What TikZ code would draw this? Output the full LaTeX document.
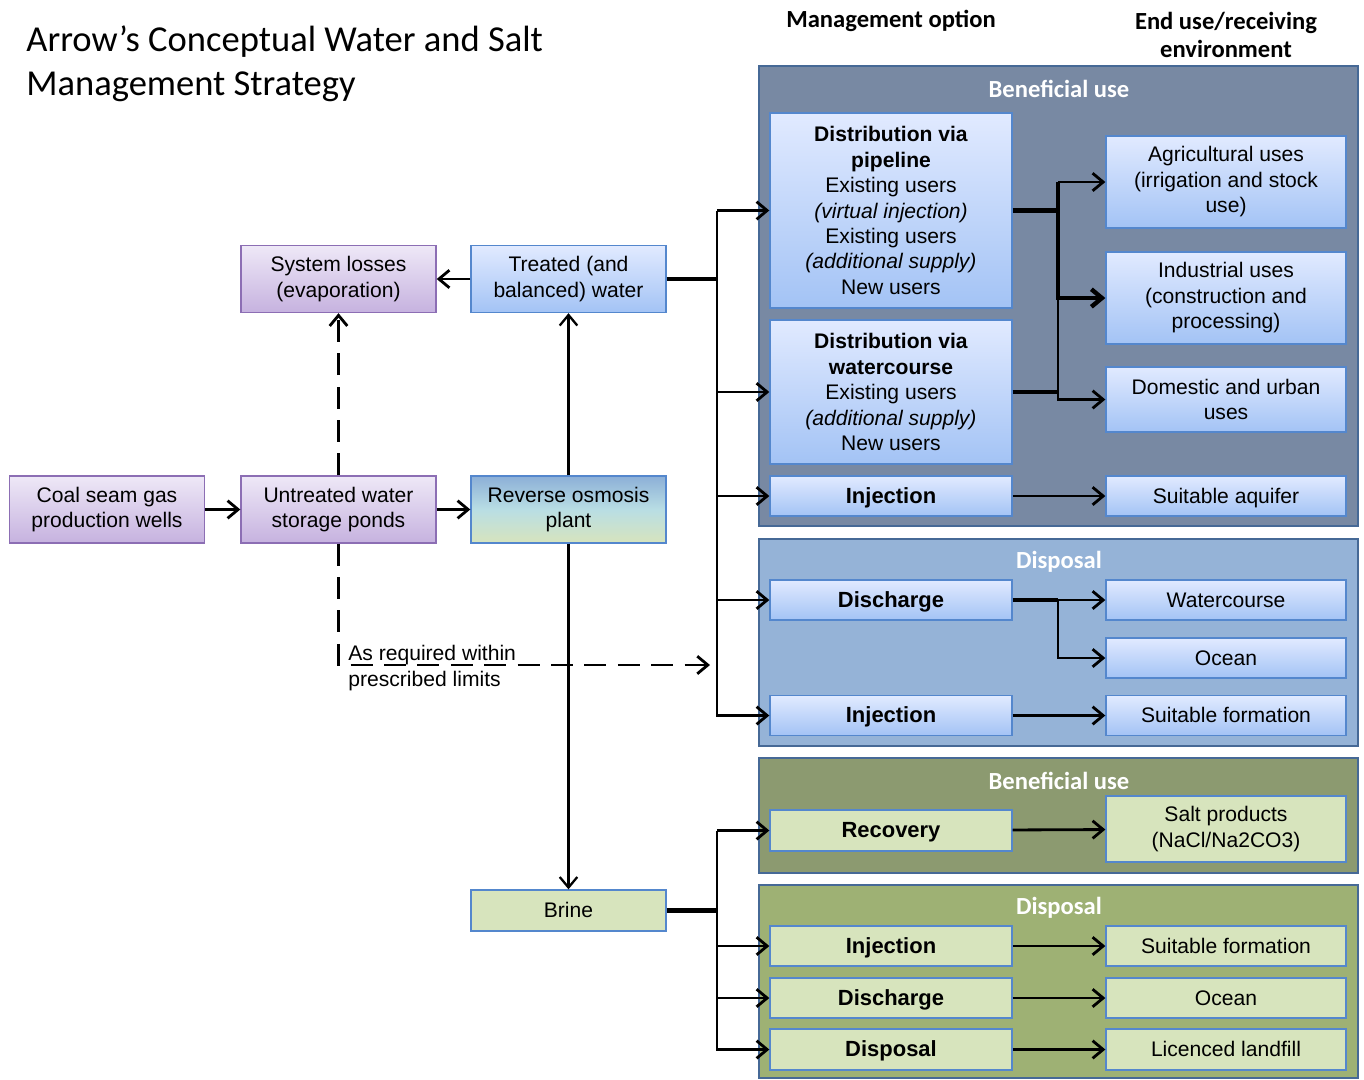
\documentclass[tikz,border=0pt]{standalone}
\usepackage{fontspec}
\setmainfont{Liberation Sans}
\newfontfamily\carlito{Carlito}
\usetikzlibrary{arrows.meta}

\definecolor{slate}{RGB}{120,137,163}
\definecolor{slateedge}{RGB}{70,105,150}
\definecolor{paleblue}{RGB}{149,179,215}
\definecolor{oliveA}{RGB}{140,154,112}
\definecolor{oliveB}{RGB}{158,177,116}
\definecolor{bluetop}{RGB}{225,234,255}
\definecolor{bluebot}{RGB}{163,195,245}
\definecolor{blueedge}{RGB}{84,135,205}
\definecolor{purtop}{RGB}{238,232,247}
\definecolor{purbot}{RGB}{198,178,223}
\definecolor{puredge}{RGB}{140,110,180}
\definecolor{grn}{RGB}{215,228,189}
\definecolor{rotop}{RGB}{140,175,215}
\definecolor{romid}{RGB}{185,222,228}

\begin{document}
\begin{tikzpicture}[
                x = 0.02cm,
                y = -0.02cm,
                > = {Straight Barb[length=6pt,width=10pt]},
                line width = 1.6pt,
                font = \fontsize{12}{14.5}\selectfont
                ]

                \tikzstyle{box}=[
                        line width = 0.8pt,
                        align = center,
                        inner sep = 2pt
                ]
                \tikzstyle{purp}=[box, draw = puredge, top color = purtop, bottom color = purbot,
                        minimum width = 3.9cm, minimum height = 1.34cm]
                \tikzstyle{blu}=[box, draw = blueedge, top color = bluetop, bottom color = bluebot]
                \tikzstyle{grnbox}=[box, draw = blueedge, fill = grn]
                \tikzstyle{one}=[text height = 0.95em, text depth = 0.15em]
                \tikzstyle{opt}=[one, minimum width = 4.84cm, font = \fontsize{12.5}{15}\selectfont\bfseries]
                \tikzstyle{enduse}=[minimum width = 4.8cm]
                \tikzstyle{panel}=[draw = slateedge, line width = 1.6pt]
                \tikzstyle{ptitle}=[text = white, font = \carlito\fontsize{14}{16}\selectfont\bfseries]
                \tikzstyle{hdr}=[align = center, font = \carlito\fontsize{14}{16}\selectfont\bfseries]
                \tikzstyle{heavy}=[line width = 2.5pt]
                \tikzstyle{dashes}=[dash pattern = on 12.5pt off 6.5pt]

                \useasboundingbox (0,0) rectangle (1364,1079);

                % headings
                \node[anchor = north west, inner sep = 0, align = left,
                        font = \carlito\fontsize{20.8}{25}\selectfont] (t) at (25,24)
                        {Arrow’s Conceptual Water and Salt\\Management Strategy};
                \node[hdr] (h1) at (891,21) {Management option};
                \node[hdr] (h2) at (1226,35) {End use/receiving\\environment};

                % panels
                \draw[panel, fill = slate] (759,66) rectangle (1358,526);
                \draw[panel, fill = paleblue] (759,539) rectangle (1358,746);
                \draw[panel, fill = oliveA] (759,758) rectangle (1358,873);
                \draw[panel, fill = oliveB] (759,885) rectangle (1358,1078);
                \node[ptitle] (p1) at (1059,89) {Beneficial use};
                \node[ptitle] (p2) at (1059,562) {Disposal};
                \node[ptitle] (p3) at (1059,781) {Beneficial use};
                \node[ptitle] (p4) at (1059,908) {Disposal};

                % water treatment
                \node[purp] (1) at (107,509.5) {Coal seam gas\\production wells};
                \node[purp] (2) at (338.5,509.5) {Untreated water\\storage ponds};
                \node[box, draw = blueedge, top color = rotop, bottom color = grn, middle color = romid,
                        minimum width = 3.9cm, minimum height = 1.34cm] (3) at (568.5,509.5) {Reverse osmosis\\plant};
                \node[purp] (4) at (338.5,279) {System losses\\(evaporation)};
                \node[blu, minimum width = 3.9cm, minimum height = 1.34cm] (5) at (568.5,279) {Treated (and\\balanced) water};
                \node[grnbox, one, minimum width = 3.9cm, minimum height = 0.82cm] (6) at (568.5,910.5) {Brine};

                % treated water options
                \node[blu, minimum width = 4.84cm, minimum height = 3.9cm] (7) at (891,210.5)
                        {\textbf{Distribution via}\\\textbf{pipeline}\\Existing users\\\textit{(virtual injection)}\\Existing users\\\textit{(additional supply)}\\New users};
                \node[blu, minimum width = 4.84cm, minimum height = 2.88cm] (8) at (891,392)
                        {\textbf{Distribution via}\\\textbf{watercourse}\\Existing users\\\textit{(additional supply)}\\New users};
                \node[blu, opt, minimum height = 0.8cm] (9) at (891,496) {Injection};
                \node[blu, enduse, minimum height = 1.84cm] (10) at (1226,182) {Agricultural uses\\(irrigation and stock\\use)};
                \node[blu, enduse, minimum height = 1.84cm] (11) at (1226,298) {Industrial uses\\(construction and\\processing)};
                \node[blu, enduse, minimum height = 1.3cm] (12) at (1226,399.5) {Domestic and  urban\\uses};
                \node[blu, enduse, one, minimum height = 0.8cm] (13) at (1226,496) {Suitable aquifer};
                \node[blu, opt, minimum height = 0.8cm] (14) at (891,600) {Discharge};
                \node[blu, opt, minimum height = 0.8cm] (15) at (891,715.5) {Injection};
                \node[blu, enduse, one, minimum height = 0.8cm] (16) at (1226,600) {Watercourse};
                \node[blu, enduse, one, minimum height = 0.8cm] (17) at (1226,658) {Ocean};
                \node[blu, enduse, one, minimum height = 0.8cm] (18) at (1226,715.5) {Suitable formation};

                % brine options
                \node[grnbox, opt, minimum height = 0.82cm] (19) at (891,830.5) {Recovery};
                \node[grnbox, enduse, minimum height = 1.32cm] (20) at (1226,829) {Salt products\\(NaCl/Na2CO3)};
                \node[grnbox, opt, minimum height = 0.8cm] (21) at (891,946) {Injection};
                \node[grnbox, opt, minimum height = 0.8cm] (22) at (891,998) {Discharge};
                \node[grnbox, opt, minimum height = 0.82cm] (23) at (891,1049.5) {Disposal};
                \node[grnbox, enduse, one, minimum height = 0.8cm] (24) at (1226,946) {Suitable formation};
                \node[grnbox, enduse, one, minimum height = 0.8cm] (25) at (1226,998) {Ocean};
                \node[grnbox, enduse, one, minimum height = 0.82cm] (26) at (1226,1049.5) {Licenced landfill};

                \coordinate (b1) at (717,210.5);
                \coordinate (b3) at (1058,182);
                \coordinate (b4) at (1058,600);
                \coordinate (b5) at (717,830.5);
                \coordinate (d) at (710,665);

                \draw[->] (1) -- (2);
                \draw[->] (2) -- (3);
                \draw[->, dashes] (2) -- (4);
                \draw[->] (5) -- (4);
                \draw[->, line width = 1.3pt] (3) -- (5);
                \draw[->, line width = 1.3pt] (3) -- (6);
                \draw[->, dashes] (2.south) |- (d);
                \node[anchor = north west, inner sep = 0, align = left] (lbl) at (347,644)
                        {As required within\\prescribed limits};

                \draw[heavy] (5.east) -- (5.east -| b1);
                \draw[->] (b1) -- (7.west);
                \draw[->] (b1) |- (8.west);
                \draw[->] (b1) |- (9.west);
                \draw[->] (b1) |- (14.west);
                \draw[->] (b1) |- (15.west);

                \draw[heavy] (7.east) -- (7.east -| b3);
                \draw[heavy] (8.east) -- (8.east -| b3);
                \draw[->] (b3) -- (10.west);
                \draw[->, heavy] (b3) |- (11.west);
                \draw[->] (b3) |- (12.west);
                \draw[->] (9) -- (13);

                \draw[heavy] (14.east) -- (b4);
                \draw[->] (b4) -- (16.west);
                \draw[->] (b4) |- (17.west);
                \draw[->] (15) -- (18);

                \draw[heavy] (6.east) -- (6.east -| b5);
                \draw[->] (b5) -- (19.west);
                \draw[->] (b5) |- (21.west);
                \draw[->] (b5) |- (22.west);
                \draw[->] (b5) |- (23.west);
                \draw[->] (19) -- (20);
                \draw[->] (21) -- (24);
                \draw[->] (22) -- (25);
                \draw[->] (23) -- (26);
\end{tikzpicture}
\end{document}
